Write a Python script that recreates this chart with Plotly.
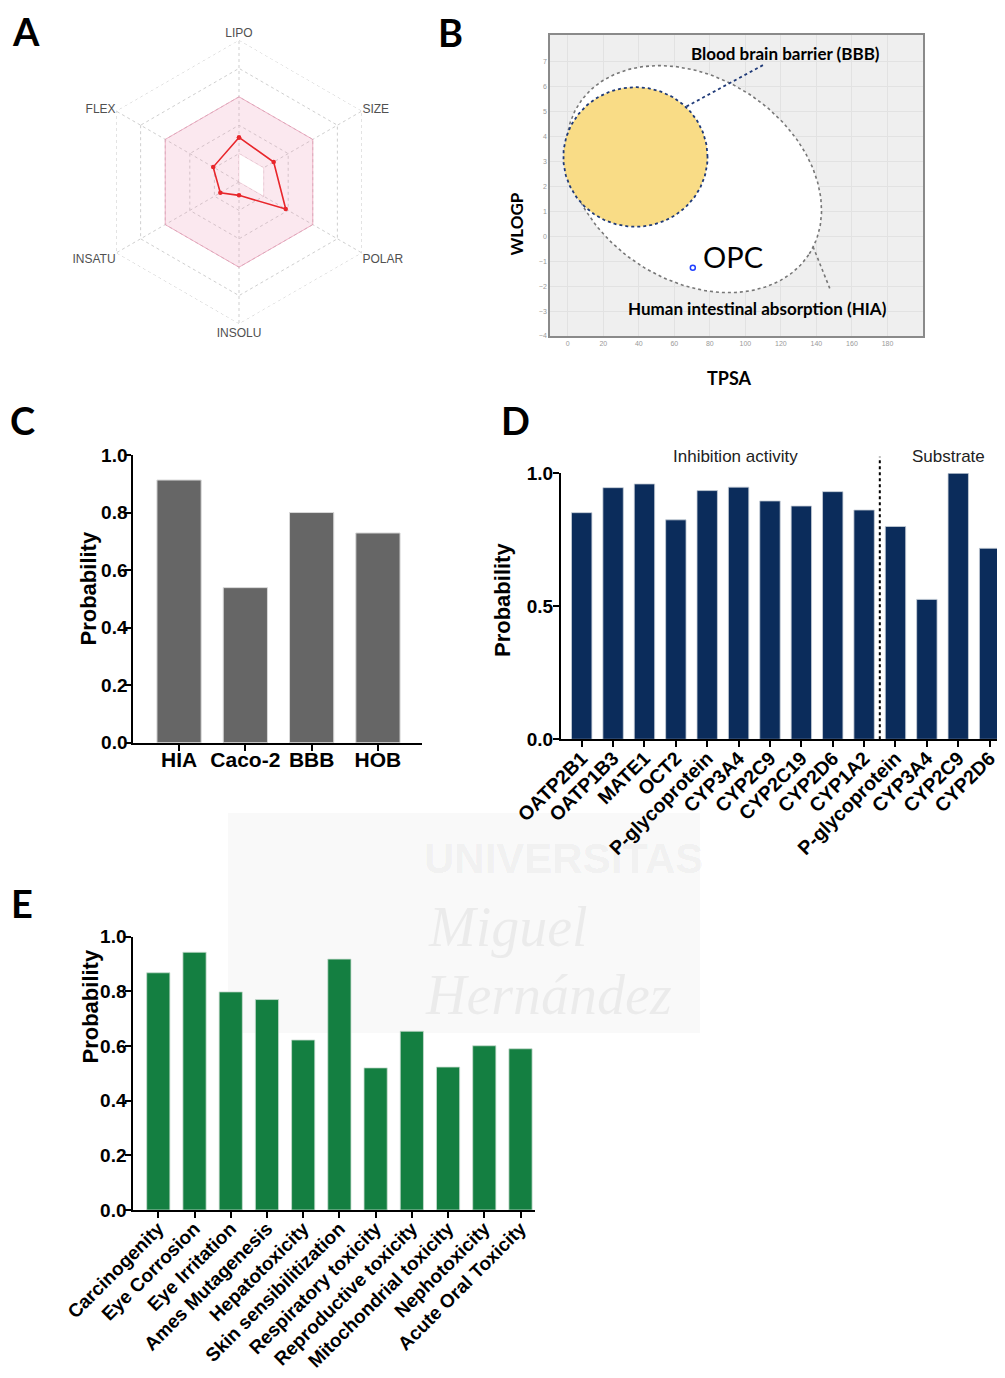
import numpy as np
import plotly.graph_objects as go

# page body has an 8px margin: the figure is sized and positioned to fill the rest of the window
OFF = 8
W, H = 1005 - OFF, 1378 - OFF

# ---------------- DATA ----------------
# Panel A: bioavailability radar
radar_axes = ["LIPO", "SIZE", "POLAR", "INSOLU", "INSATU", "FLEX"]
radar_values = [1.57, 1.41, 1.90, 0.47, 0.76, 1.05]
radar_opt_inner = [1, 1, 1, 0, 0, 0]
radar_opt_outer = [3, 3, 3, 3, 3, 3]

# Panel B: boiled egg
opc_tpsa = [70.4]
opc_wlogp = [-1.26]
hia_center = (71.05, 2.29)
bbb_center = (38.1, 3.18)
b_xticks = [0, 20, 40, 60, 80, 100, 120, 140, 160, 180]
b_yticks = [-4, -3, -2, -1, 0, 1, 2, 3, 4, 5, 6, 7]

# Panel C
c_cats = ["HIA", "Caco-2", "BBB", "HOB"]
c_vals = [0.913, 0.539, 0.800, 0.729]

# Panel D
d_cats = ["OATP2B1", "OATP1B3", "MATE1", "OCT2", "P-glycoprotein", "CYP3A4",
          "CYP2C9", "CYP2C19", "CYP2D6", "CYP1A2",
          "P-glycoprotein", "CYP3A4", "CYP2C9", "CYP2D6"]
d_vals = [0.852, 0.946, 0.960, 0.825, 0.935, 0.948, 0.896, 0.877, 0.931, 0.862,
          0.800, 0.526, 1.000, 0.718]

# Panel E
e_cats = ["Carcinogenity", "Eye Corrosion", "Eye Irritation", "Ames Mutagenesis",
          "Hepatotoxicity", "Skin sensibilitization", "Respiratory toxicity",
          "Reproductive toxicity", "Mitochondrial toxicity", "Nephotoxicity",
          "Acute Oral Toxicity"]
e_vals = [0.868, 0.943, 0.798, 0.770, 0.622, 0.918, 0.520, 0.654, 0.523, 0.601, 0.590]

# ---------------- helpers ----------------
def px_x(p):
    return (p - OFF) / W

def px_y(p):
    return 1 - (p - OFF) / H

BOLD = dict(family="Liberation Sans, Arial", color="black", weight="bold")
CAL = "Lato, Carlito, Calibri, sans-serif"

fig = go.Figure()

# ---------------- Panel A ----------------
theta = radar_axes + [radar_axes[0]]
fig.add_trace(go.Scatterpolar(r=radar_opt_outer + [radar_opt_outer[0]], theta=theta, mode="lines",
                              fill="toself", fillcolor="rgba(238,150,180,0.22)",
                              line=dict(color="rgba(232,140,170,0.65)", width=1),
                              hoverinfo="skip", showlegend=False, subplot="polar"))
fig.add_trace(go.Scatterpolar(r=radar_opt_inner + [radar_opt_inner[0]], theta=theta, mode="lines",
                              fill="toself", fillcolor="white",
                              line=dict(color="rgba(232,140,170,0.35)", width=0.7),
                              hoverinfo="skip", showlegend=False, subplot="polar"))
fig.add_trace(go.Scatterpolar(r=[5] * 7, theta=theta, mode="lines",
                              line=dict(color="#c8c8c8", width=1, dash="dot"),
                              hoverinfo="skip", showlegend=False, subplot="polar"))
fig.add_trace(go.Scatterpolar(r=radar_values + [radar_values[0]], theta=theta, mode="lines+markers",
                              line=dict(color="#e8262b", width=1.6),
                              marker=dict(color="#e8262b", size=4.5),
                              showlegend=False, subplot="polar"))

# ---------------- Panel B ----------------
bx_range = [-10, 200]
by_range = [-4, 8.07]
bx0, bx1, by0, by1 = 550, 923, 35, 336
sx = (bx1 - bx0) / (bx_range[1] - bx_range[0])
sy = (by1 - by0) / (by_range[1] - by_range[0])

t = np.linspace(0, 2 * np.pi, 240)
# HIA (white) ellipse: semi-axes and tilt in screen space
A_px, B_px, phi = 137.4, 101.4, np.deg2rad(33.4)
ex = A_px * np.cos(t) * np.cos(phi) - B_px * np.sin(t) * np.sin(phi)
ey = A_px * np.cos(t) * np.sin(phi) + B_px * np.sin(t) * np.cos(phi)
hia_x = hia_center[0] + ex / sx
hia_y = hia_center[1] - ey / sy
fig.add_trace(go.Scatter(x=hia_x, y=hia_y, mode="lines", fill="toself", fillcolor="white",
                         line=dict(color="#777777", width=1.6, dash="dot"),
                         hoverinfo="skip", showlegend=False, xaxis="x", yaxis="y"))
# BBB (yolk)
yolk_x = bbb_center[0] + 40.6 * np.cos(t)
yolk_y = bbb_center[1] + 2.80 * np.sin(t)
fig.add_trace(go.Scatter(x=yolk_x, y=yolk_y, mode="lines", fill="toself", fillcolor="#f9dc86",
                         line=dict(color="#1f3a78", width=1.8, dash="dot"),
                         hoverinfo="skip", showlegend=False, xaxis="x", yaxis="y"))
# leader lines
fig.add_trace(go.Scatter(x=[66.8, 110.9], y=[5.20, 6.90], mode="lines",
                         line=dict(color="#1f3a78", width=1.8, dash="dot"),
                         hoverinfo="skip", showlegend=False, xaxis="x", yaxis="y"))
fig.add_trace(go.Scatter(x=[138.1, 147.5], y=[-0.42, -2.09], mode="lines",
                         line=dict(color="#777777", width=1.6, dash="dot"),
                         hoverinfo="skip", showlegend=False, xaxis="x", yaxis="y"))
fig.add_trace(go.Scatter(x=opc_tpsa, y=opc_wlogp, mode="markers",
                         marker=dict(symbol="circle-open", color="#2040ff", size=5, line=dict(width=1.5)),
                         showlegend=False, xaxis="x", yaxis="y"))

# ---------------- Panel C ----------------
fig.add_trace(go.Bar(x=list(range(len(c_cats))), y=c_vals, width=0.667,
                     marker=dict(color="#666666", line=dict(color="#d8d8d8", width=1)),
                     showlegend=False, xaxis="x2", yaxis="y2"))

# ---------------- Panel D ----------------
fig.add_trace(go.Bar(x=list(range(len(d_cats))), y=d_vals, width=0.65,
                     marker=dict(color="#0b2c5b", line=dict(color="#c8cfd8", width=0.8)),
                     showlegend=False, xaxis="x3", yaxis="y3"))

# ---------------- Panel E ----------------
fig.add_trace(go.Bar(x=list(range(len(e_cats))), y=e_vals, width=0.64,
                     marker=dict(color="#147f41", line=dict(color="#c8dccf", width=0.8)),
                     showlegend=False, xaxis="x4", yaxis="y4"))

# ---------------- Layout ----------------
def bar_axes(tickvals, ticktext, domain_x, domain_y, xr, ydtick, xfs, yfs, angle, anchor_x, anchor_y,
             xstand, ystand):
    xa = dict(domain=domain_x, range=xr, anchor=anchor_y, showline=True, linecolor="black", linewidth=2,
              ticks="outside", ticklen=6, tickwidth=2, tickcolor="black", showgrid=False, zeroline=False,
              tickmode="array", tickvals=tickvals, ticktext=ticktext, tickangle=angle, automargin=False,
              ticklabelstandoff=xstand, tickfont=dict(size=xfs, **BOLD), fixedrange=True)
    ya = dict(domain=domain_y, range=[0, 1], anchor=anchor_x, showline=True, linecolor="black", linewidth=2,
              ticks="outside", ticklen=6, tickwidth=2, tickcolor="black", showgrid=False, zeroline=False,
              dtick=ydtick, tick0=0, tickformat=".1f", tickfont=dict(size=yfs, **BOLD), fixedrange=True,
              ticklabelstandoff=ystand, automargin=False)
    return xa, ya

xa2, ya2 = bar_axes(list(range(len(c_cats))), c_cats, [px_x(133.3), px_x(421.7)],
                    [px_y(742.7), px_y(455)], [-0.69, 3.66], 0.2, 21, 19, 0, "x2", "y2", -9, -6)
xa3, ya3 = bar_axes(list(range(len(d_cats))), d_cats, [px_x(561), 1.0],
                    [px_y(739.3), px_y(473.3)], [-0.66, 13.49], 0.5, 19.5, 19, -45, "x3", "y3", -8, -4)
xa4, ya4 = bar_axes(list(range(len(e_cats))), e_cats, [px_x(133.3), px_x(535)],
                    [px_y(1210), px_y(936.7)], [-0.69, 10.4], 0.2, 19, 19, -45, "x4", "y4", -8, -5)

axis_b_common = dict(showline=True, linecolor="#8a8a8a", linewidth=1.5, mirror=True, ticks="",
                     showgrid=True, gridcolor="#e2e2e2", gridwidth=1, zeroline=False, automargin=False,
                     tickfont=dict(size=7, color="#9a9a9a", family="Liberation Sans"), fixedrange=True,
                     tickmode="array")

fig.update_layout(
    template="none",
    width=W, height=H, margin=dict(l=0, r=0, t=0, b=0, pad=0), autosize=False,
    paper_bgcolor="white", plot_bgcolor="white", showlegend=False,
    polar=dict(
        domain=dict(x=[px_x(97), px_x(381)], y=[px_y(324), px_y(40)]),
        gridshape="linear", bgcolor="rgba(0,0,0,0)",
        radialaxis=dict(range=[0, 5], tickvals=[1, 2, 3, 4], showticklabels=False, ticks="",
                        showline=False, gridcolor="#cfcfcf", griddash="dot", gridwidth=1),
        angularaxis=dict(type="category", categoryarray=radar_axes, direction="clockwise", rotation=90,
                         showline=False, gridcolor="#cfcfcf", griddash="dot", ticks="",
                         tickfont=dict(family="Liberation Sans, Arial", size=12, color="#505050")),
    ),
    xaxis=dict(domain=[px_x(bx0), px_x(bx1)], range=bx_range, anchor="y", tickvals=b_xticks, **axis_b_common),
    yaxis=dict(domain=[px_y(by1), px_y(by0)], range=by_range, anchor="x", tickvals=b_yticks, **axis_b_common),
    xaxis2=xa2, yaxis2=ya2, xaxis3=xa3, yaxis3=ya3, xaxis4=xa4, yaxis4=ya4,
)
# panel B background as shape beneath
fig.add_shape(type="rect", xref="x domain", yref="y domain", x0=0, x1=1, y0=0, y1=1,
              fillcolor="#efefef", line=dict(width=0), layer="below")

# Dotted separator in D
d_xr = xa3["range"]
sep_x = (9.5 - d_xr[0]) / (d_xr[1] - d_xr[0])
fig.add_shape(type="line", xref="x3 domain", yref="y3 domain", x0=sep_x, x1=sep_x, y0=0, y1=1.062,
              line=dict(color="black", width=2, dash="dot"))

# Watermark
fig.add_shape(type="rect", xref="paper", yref="paper", x0=px_x(228), x1=px_x(700), y0=px_y(1033), y1=px_y(813),
              fillcolor="rgba(0,0,0,0.025)", line=dict(width=0), layer="below")

ann = []
# panel letters
for letter, (lx, ly) in {"A": (26, 31), "B": (450, 32), "C": (22, 420), "D": (516, 420), "E": (22, 903)}.items():
    ann.append(dict(text=letter, x=px_x(lx), y=px_y(ly), xref="paper", yref="paper", showarrow=False,
                    xanchor="center", yanchor="middle", font=dict(family=CAL, size=38, color="black", weight="bold")))
# panel B texts
ann.append(dict(text="Blood brain barrier (BBB)", x=122.7, y=7.31, xref="x", yref="y", showarrow=False,
                font=dict(family=CAL, size=17, color="black", weight="bold")))
ann.append(dict(text="Human intestinal absorption (HIA)", x=107, y=-2.88, xref="x", yref="y", showarrow=False,
                font=dict(family=CAL, size=17, color="black", weight="bold")))
ann.append(dict(text="OPC", x=92.9, y=-0.83, xref="x", yref="y", showarrow=False,
                font=dict(family=CAL, size=29, color="black")))
ann.append(dict(text="WLOGP", x=px_x(516), y=px_y(190), xref="paper", yref="paper", showarrow=False, textangle=-90,
                font=dict(family=CAL, size=17, color="black", weight="bold")))
ann.append(dict(text="TPSA", x=px_x(754), y=px_y(365), xref="paper", yref="paper", showarrow=False,
                font=dict(family=CAL, size=18, color="black", weight="bold")))
# Probability titles
for (tx, ty) in [(73, 589), (502, 600), (75, 1066)]:
    ann.append(dict(text="Probability", x=px_x(tx), y=px_y(ty), xref="paper", yref="paper", showarrow=False,
                    textangle=-90, font=dict(size=22, **BOLD)))
# D section labels
ann.append(dict(text="Inhibition activity", x=4.9, y=1.106, xref="x3", yref="y3 domain", showarrow=False,
                font=dict(family="Liberation Sans, Arial", size=17, color="#222")))
ann.append(dict(text="Substrate", x=11.7, y=1.106, xref="x3", yref="y3 domain", showarrow=False,
                font=dict(family="Liberation Sans, Arial", size=17, color="#222")))
# watermark text
ann.append(dict(text="UNIVERSITAS", x=px_x(563), y=px_y(858), xref="paper", yref="paper", showarrow=False,
                font=dict(family="Liberation Sans", size=42, color="rgba(0,0,0,0.055)", weight="bold")))
ann.append(dict(text="Miguel", x=px_x(508), y=px_y(960), xref="paper", yref="paper", showarrow=False,
                font=dict(family="Liberation Serif", size=56, color="rgba(0,0,0,0.055)", style="italic")))
ann.append(dict(text="Hernández", x=px_x(548), y=px_y(1028), xref="paper", yref="paper", showarrow=False,
                font=dict(family="Liberation Serif", size=56, color="rgba(0,0,0,0.055)", style="italic")))
fig.update_layout(annotations=ann)

fig.write_html("out.html")
